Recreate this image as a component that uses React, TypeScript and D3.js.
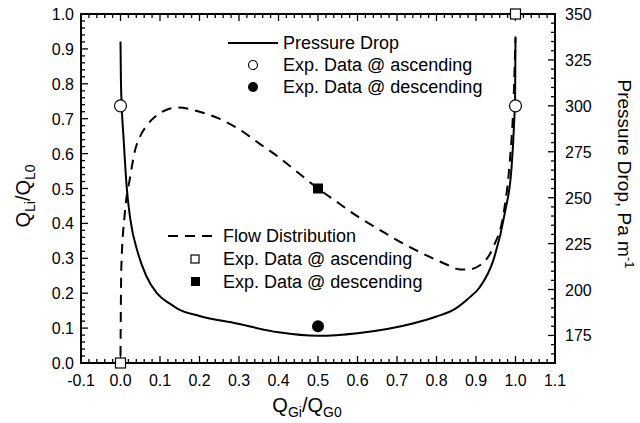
import React from 'react';
import * as d3 from 'd3';

// flow distribution, Q_Li/Q_L0 against Q_Gi/Q_G0 (left axis)
const flowDistribution: [number, number][] = [
  [0.0, 0.02], [0.002, 0.27], [0.011, 0.43], [0.024, 0.53], [0.037, 0.61],
  [0.05, 0.65], [0.066, 0.68], [0.092, 0.71], [0.12, 0.727], [0.145, 0.732],
  [0.2, 0.72], [0.25, 0.7], [0.3, 0.67], [0.35, 0.63], [0.4, 0.59],
  [0.45, 0.545], [0.5, 0.5], [0.55, 0.46], [0.6, 0.42], [0.657, 0.381],
  [0.7, 0.352], [0.75, 0.322], [0.8, 0.295], [0.83, 0.28], [0.86, 0.268],
  [0.88, 0.268], [0.91, 0.28], [0.944, 0.333], [0.97, 0.43], [0.985, 0.57],
  [0.995, 0.75], [1.0, 0.93],
];

// pressure drop, Pa m-1 (right axis)
const pressureDrop: [number, number][] = [
  [0.0, 335], [0.001, 315], [0.003, 300.6], [0.008, 281.6], [0.016, 255],
  [0.025, 238], [0.044, 220], [0.065, 207.5], [0.092, 198], [0.125, 192.3],
  [0.145, 189.5], [0.2, 185.6], [0.294, 181.5], [0.4, 176.7], [0.5, 174.8],
  [0.6, 176.2], [0.74, 181.5], [0.8, 185.3], [0.847, 189.5], [0.88, 195],
  [0.91, 201.4], [0.944, 216], [0.973, 241.7], [0.99, 266.4], [0.997, 293],
  [0.999, 305], [1.0, 337.7],
];

const flowAscending: [number, number][] = [[0.0, 0.0], [1.0, 1.0]];
const flowDescending: [number, number][] = [[0.5, 0.5]];
const pressureAscending: [number, number][] = [[0.0, 300], [1.0, 300]];
const pressureDescending: [number, number][] = [[0.5, 180]];

const xTickLabels = ['-0.1', '0.0', '0.1', '0.2', '0.3', '0.4', '0.5', '0.6', '0.7', '0.8', '0.9', '1.0', '1.1'];
const yLeftTickLabels = ['0.0', '0.1', '0.2', '0.3', '0.4', '0.5', '0.6', '0.7', '0.8', '0.9', '1.0'];
const yRightTicks = [175, 200, 225, 250, 275, 300, 325, 350];

const font = '"Liberation Sans", Arial, sans-serif';

const App = () => {
  const left = 81, right = 555, top = 14, bottom = 363;
  const x = d3.scaleLinear().domain([-0.1, 1.1]).range([left, right]);
  const yL = d3.scaleLinear().domain([0, 1]).range([bottom, top]);
  const yR = d3.scaleLinear().domain([160, 350]).range([bottom, top]);

  const flowLine = d3.line<[number, number]>()
    .x(d => x(d[0])).y(d => yL(d[1])).curve(d3.curveMonotoneX);
  const pressureLine = d3.line<[number, number]>()
    .x(d => x(d[0])).y(d => yR(d[1])).curve(d3.curveMonotoneX);

  const xMinor = d3.range(-0.1, 1.1001, 0.02);
  const yLMinor = d3.range(0, 1.0001, 0.02);
  const yRMinor = d3.range(160, 350.01, 5);
  const major = 7, minor = 4;

  return (
    <svg width={640} height={423} style={{ position: 'absolute', left: 0, top: 0, background: '#fff' }}
      fontFamily={font}>
      <rect x={0} y={0} width={640} height={423} fill="#fff" />

      {/* ticks */}
      <g stroke="#000" strokeWidth={1.3}>
        {xMinor.map((v, i) => (
          <g key={'xm' + i}>
            <line x1={x(v)} x2={x(v)} y1={bottom} y2={bottom - (i % 5 === 0 ? major : minor)} />
            <line x1={x(v)} x2={x(v)} y1={top} y2={top + (i % 5 === 0 ? major : minor)} />
          </g>
        ))}
        {yLMinor.map((v, i) => (
          <line key={'yl' + i} x1={left} x2={left + (i % 5 === 0 ? major : minor)} y1={yL(v)} y2={yL(v)} />
        ))}
        {yRMinor.map((v, i) => (
          <line key={'yr' + i} x1={right} x2={right - ((v - 175) % 25 === 0 ? major : minor)} y1={yR(v)} y2={yR(v)} />
        ))}
      </g>

      <rect x={left} y={top} width={right - left} height={bottom - top} fill="none" stroke="#000" strokeWidth={2} />

      {/* tick labels */}
      <g fontSize={16} fill="#000">
        {xTickLabels.map(t => (
          <text key={'xt' + t} x={x(+t)} y={bottom + 23} textAnchor="middle">{t}</text>
        ))}
        {yLeftTickLabels.map(t => (
          <text key={'yt' + t} x={left - 7} y={yL(+t) + 6} textAnchor="end">{t}</text>
        ))}
        {yRightTicks.map(t => (
          <text key={'rt' + t} x={right + 10} y={yR(t) + 6} textAnchor="start">{t}</text>
        ))}
      </g>

      {/* axis titles */}
      <text x={307} y={412} fontSize={20} textAnchor="middle">
        Q<tspan fontSize={14} dy={5}>Gi</tspan><tspan dy={-5}>/Q</tspan><tspan fontSize={14} dy={5}>G0</tspan>
      </text>
      <text transform="translate(30,196) rotate(-90)" fontSize={20} textAnchor="middle">
        Q<tspan fontSize={14} dy={5}>Li</tspan><tspan dy={-5}>/Q</tspan><tspan fontSize={14} dy={5}>L0</tspan>
      </text>
      <text transform="translate(618,174) rotate(90)" fontSize={19} textAnchor="middle">
        Pressure Drop, Pa m<tspan fontSize={13} dy={-7}>-1</tspan>
      </text>

      {/* curves */}
      <path d={pressureLine(pressureDrop) ?? ''} fill="none" stroke="#000" strokeWidth={2} />
      <path d={flowLine(flowDistribution) ?? ''} fill="none" stroke="#000" strokeWidth={2} strokeDasharray="10,7" />

      {/* experimental points */}
      {pressureAscending.map((d, i) => (
        <circle key={'pa' + i} cx={x(d[0])} cy={yR(d[1])} r={6} fill="#fff" stroke="#000" strokeWidth={1.2} />
      ))}
      {pressureDescending.map((d, i) => (
        <circle key={'pd' + i} cx={x(d[0])} cy={yR(d[1])} r={6} fill="#000" />
      ))}
      {flowAscending.map((d, i) => (
        <rect key={'fa' + i} x={x(d[0]) - 5} y={yL(d[1]) - 5} width={10} height={10} fill="#fff" stroke="#000" strokeWidth={1.2} />
      ))}
      {flowDescending.map((d, i) => (
        <rect key={'fd' + i} x={x(d[0]) - 5} y={yL(d[1]) - 5} width={10} height={10} fill="#000" />
      ))}

      {/* legend, pressure drop */}
      <g fontSize={18}>
        <line x1={228} x2={278} y1={43} y2={43} stroke="#000" strokeWidth={2} />
        <text x={283} y={49}>Pressure Drop</text>
        <circle cx={253} cy={65} r={4.5} fill="#fff" stroke="#000" strokeWidth={1.2} />
        <text x={283} y={71}>Exp. Data @ ascending</text>
        <circle cx={253} cy={87} r={5} fill="#000" />
        <text x={283} y={93}>Exp. Data @ descending</text>
      </g>

      {/* legend, flow distribution */}
      <g fontSize={18}>
        <line x1={168} x2={213} y1={236} y2={236} stroke="#000" strokeWidth={2} strokeDasharray="10,7" />
        <text x={223} y={242}>Flow Distribution</text>
        <rect x={191} y={255} width={8} height={8} fill="#fff" stroke="#000" strokeWidth={1.2} />
        <text x={223} y={265}>Exp. Data @ ascending</text>
        <rect x={191} y={277} width={9} height={9} fill="#000" />
        <text x={223} y={288}>Exp. Data @ descending</text>
      </g>
    </svg>
  );
};

export default App;
